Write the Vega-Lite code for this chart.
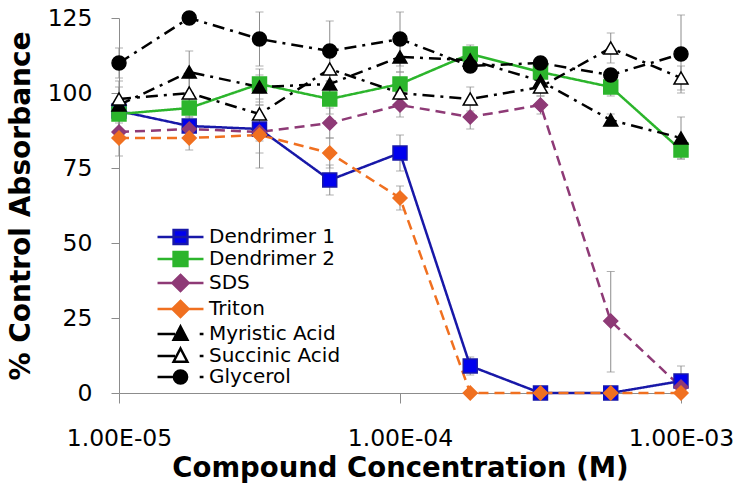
{
  "$schema": "https://vega.github.io/schema/vega-lite/v6.json",
  "width": 562,
  "height": 375,
  "autosize": {"type": "none"},
  "padding": {"left": 119, "top": 18, "right": 69, "bottom": 99},
  "background": "white",
  "config": {
    "view": {"stroke": null},
    "font": "DejaVu Sans",
    "legend": {
      "title": null,
      "orient": "none",
      "legendX": 38,
      "legendY": 209,
      "symbolSize": 36,
      "symbolStrokeWidth": 2.5,
      "symbolOpacity": 1,
      "symbolOffset": 13.5,
      "labelOffset": 18.5,
      "rowPadding": -2,
      "labelFont": "DejaVu Sans",
      "labelFontSize": 20,
      "labelColor": "#000000"
    }
  },
  "resolve": {"scale": {"shape": "independent", "fill": "independent", "stroke": "independent"}},
  "data": {
    "values": [
      {"series": "Dendrimer 1", "conc": 1e-5, "value": 94, "lo": 91, "hi": 97},
      {"series": "Dendrimer 1", "conc": 1.778e-5, "value": 89, "lo": 86, "hi": 92},
      {"series": "Dendrimer 1", "conc": 3.162e-5, "value": 88, "lo": 80, "hi": 96},
      {"series": "Dendrimer 1", "conc": 5.623e-5, "value": 71, "lo": 66, "hi": 76},
      {"series": "Dendrimer 1", "conc": 1e-4, "value": 80, "lo": 74, "hi": 86},
      {"series": "Dendrimer 1", "conc": 1.778e-4, "value": 9, "lo": 6, "hi": 12},
      {"series": "Dendrimer 1", "conc": 3.162e-4, "value": 0},
      {"series": "Dendrimer 1", "conc": 5.623e-4, "value": 0},
      {"series": "Dendrimer 1", "conc": 1e-3, "value": 4, "lo": 0, "hi": 9},
      {"series": "Dendrimer 2", "conc": 1e-5, "value": 93, "lo": 91, "hi": 95},
      {"series": "Dendrimer 2", "conc": 1.778e-5, "value": 95, "lo": 92, "hi": 98},
      {"series": "Dendrimer 2", "conc": 3.162e-5, "value": 103, "lo": 100, "hi": 106},
      {"series": "Dendrimer 2", "conc": 5.623e-5, "value": 98, "lo": 93, "hi": 103},
      {"series": "Dendrimer 2", "conc": 1e-4, "value": 103, "lo": 99, "hi": 107},
      {"series": "Dendrimer 2", "conc": 1.778e-4, "value": 113, "lo": 110, "hi": 116},
      {"series": "Dendrimer 2", "conc": 3.162e-4, "value": 107, "lo": 104, "hi": 110},
      {"series": "Dendrimer 2", "conc": 5.623e-4, "value": 102, "lo": 99, "hi": 105},
      {"series": "Dendrimer 2", "conc": 1e-3, "value": 81, "lo": 78, "hi": 84},
      {"series": "SDS", "conc": 1e-5, "value": 87, "lo": 84, "hi": 90},
      {"series": "SDS", "conc": 1.778e-5, "value": 88, "lo": 85, "hi": 91},
      {"series": "SDS", "conc": 3.162e-5, "value": 87, "lo": 84, "hi": 90},
      {"series": "SDS", "conc": 5.623e-5, "value": 90, "lo": 85, "hi": 95},
      {"series": "SDS", "conc": 1e-4, "value": 96, "lo": 92, "hi": 100},
      {"series": "SDS", "conc": 1.778e-4, "value": 92, "lo": 88, "hi": 96},
      {"series": "SDS", "conc": 3.162e-4, "value": 96, "lo": 93, "hi": 99},
      {"series": "SDS", "conc": 5.623e-4, "value": 24, "lo": 7, "hi": 40.5},
      {"series": "SDS", "conc": 1e-3, "value": 2},
      {"series": "Triton", "conc": 1e-5, "value": 85, "lo": 79, "hi": 91},
      {"series": "Triton", "conc": 1.778e-5, "value": 85, "lo": 81, "hi": 89},
      {"series": "Triton", "conc": 3.162e-5, "value": 86, "lo": 75, "hi": 97},
      {"series": "Triton", "conc": 5.623e-5, "value": 80, "lo": 75, "hi": 85},
      {"series": "Triton", "conc": 1e-4, "value": 65, "lo": 61, "hi": 69},
      {"series": "Triton", "conc": 1.778e-4, "value": 0},
      {"series": "Triton", "conc": 3.162e-4, "value": 0},
      {"series": "Triton", "conc": 5.623e-4, "value": 0},
      {"series": "Triton", "conc": 1e-3, "value": 0},
      {"series": "Myristic Acid", "conc": 1e-5, "value": 96, "lo": 88, "hi": 104},
      {"series": "Myristic Acid", "conc": 1.778e-5, "value": 107, "lo": 100, "hi": 114},
      {"series": "Myristic Acid", "conc": 3.162e-5, "value": 102, "lo": 96, "hi": 108},
      {"series": "Myristic Acid", "conc": 5.623e-5, "value": 103, "lo": 98, "hi": 108},
      {"series": "Myristic Acid", "conc": 1e-4, "value": 112, "lo": 107, "hi": 117},
      {"series": "Myristic Acid", "conc": 1.778e-4, "value": 111, "lo": 108, "hi": 114},
      {"series": "Myristic Acid", "conc": 3.162e-4, "value": 104, "lo": 101, "hi": 107},
      {"series": "Myristic Acid", "conc": 5.623e-4, "value": 91, "lo": 89, "hi": 93},
      {"series": "Myristic Acid", "conc": 1e-3, "value": 85, "lo": 78, "hi": 92},
      {"series": "Succinic Acid", "conc": 1e-5, "value": 98, "lo": 94, "hi": 102},
      {"series": "Succinic Acid", "conc": 1.778e-5, "value": 100, "lo": 95, "hi": 105},
      {"series": "Succinic Acid", "conc": 3.162e-5, "value": 93, "lo": 88, "hi": 98},
      {"series": "Succinic Acid", "conc": 5.623e-5, "value": 108, "lo": 104, "hi": 112},
      {"series": "Succinic Acid", "conc": 1e-4, "value": 100, "lo": 95, "hi": 105},
      {"series": "Succinic Acid", "conc": 1.778e-4, "value": 98, "lo": 94, "hi": 102},
      {"series": "Succinic Acid", "conc": 3.162e-4, "value": 102, "lo": 99, "hi": 105},
      {"series": "Succinic Acid", "conc": 5.623e-4, "value": 115, "lo": 110, "hi": 120},
      {"series": "Succinic Acid", "conc": 1e-3, "value": 105, "lo": 101, "hi": 109},
      {"series": "Glycerol", "conc": 1e-5, "value": 110, "lo": 105, "hi": 115},
      {"series": "Glycerol", "conc": 1.778e-5, "value": 125},
      {"series": "Glycerol", "conc": 3.162e-5, "value": 118, "lo": 109, "hi": 127},
      {"series": "Glycerol", "conc": 5.623e-5, "value": 114, "lo": 104, "hi": 124},
      {"series": "Glycerol", "conc": 1e-4, "value": 118, "lo": 109, "hi": 127},
      {"series": "Glycerol", "conc": 1.778e-4, "value": 109, "lo": 107, "hi": 111},
      {"series": "Glycerol", "conc": 3.162e-4, "value": 110, "lo": 108, "hi": 112},
      {"series": "Glycerol", "conc": 5.623e-4, "value": 106, "lo": 104, "hi": 108},
      {"series": "Glycerol", "conc": 1e-3, "value": 113, "lo": 100, "hi": 126}
    ]
  },
  "encoding": {
    "x": {
      "field": "conc",
      "type": "quantitative",
      "scale": {"type": "log", "domain": [1e-5, 1e-3], "nice": false},
      "axis": {
        "title": "Compound Concentration (M)",
        "values": [1e-5, 1e-4, 1e-3],
        "labelExpr": "datum.value < 3e-5 ? '1.00E-05' : datum.value < 3e-4 ? '1.00E-04' : '1.00E-03'",
        "grid": false,
        "domainColor": "#8c8c8c",
        "tickColor": "#8c8c8c",
        "tickSize": 10,
        "labelFont": "DejaVu Sans",
        "labelFontSize": 23.5,
        "labelColor": "#000000",
        "labelPadding": 23,
        "labelFlush": false,
        "labelOverlap": false,
        "titleFont": "DejaVu Sans",
        "titleFontSize": 27.5,
        "titleFontWeight": "bold",
        "titleColor": "#000000",
        "titlePadding": 5
      }
    }
  },
  "layer": [
    {
      "transform": [{"filter": "datum.hi != null"}],
      "mark": {"type": "rule", "color": "#8c8c8c", "strokeWidth": 1},
      "encoding": {
        "y": {
          "field": "lo",
          "type": "quantitative",
          "scale": {"domain": [0, 125], "nice": false},
          "axis": {
            "title": "% Control Absorbance",
            "values": [0, 25, 50, 75, 100, 125],
            "grid": false,
            "domainColor": "#8c8c8c",
            "tickColor": "#8c8c8c",
            "tickSize": 8,
            "labelFont": "DejaVu Sans",
            "labelFontSize": 23.5,
            "labelColor": "#000000",
            "labelPadding": 19,
            "labelFlush": false,
            "titleFont": "DejaVu Sans",
            "titleFontSize": 28,
            "titleFontWeight": "bold",
            "titleColor": "#000000",
            "titlePadding": 12
          }
        },
        "y2": {"field": "hi"}
      }
    },
    {
      "transform": [{"filter": "datum.hi != null"}],
      "mark": {"type": "tick", "orient": "horizontal", "color": "#8c8c8c", "size": 8, "thickness": 1},
      "encoding": {
        "y": {"field": "lo", "type": "quantitative"}
      }
    },
    {
      "transform": [{"filter": "datum.hi != null"}],
      "mark": {"type": "tick", "orient": "horizontal", "color": "#8c8c8c", "size": 8, "thickness": 1},
      "encoding": {
        "y": {"field": "hi", "type": "quantitative"}
      }
    },
    {
      "mark": {"type": "line", "strokeWidth": 2.5},
      "encoding": {
        "y": {"field": "value", "type": "quantitative"},
        "stroke": {
          "field": "series",
          "type": "nominal",
          "scale": {
            "domain": ["Dendrimer 1", "Dendrimer 2", "SDS", "Triton", "Myristic Acid", "Succinic Acid", "Glycerol"],
            "range": ["#1818a8", "#2cb52c", "#8e3a76", "#f07020", "#000000", "#000000", "#000000"]
          },
          "legend": null
        },
        "strokeDash": {
          "field": "series",
          "type": "nominal",
          "scale": {
            "domain": ["Dendrimer 1", "Dendrimer 2", "SDS", "Triton", "Myristic Acid", "Succinic Acid", "Glycerol"],
            "range": [[1, 0], [1, 0], [10, 6], [10, 6], [12, 6, 3, 6], [12, 6, 3, 6], [12, 6, 3, 6]]
          },
          "legend": null
        }
      }
    },
    {
      "mark": {"type": "point", "filled": true, "opacity": 1, "strokeWidth": 1.5, "size": 195},
      "encoding": {
        "y": {"field": "value", "type": "quantitative"},
        "shape": {
          "field": "series",
          "type": "nominal",
          "scale": {
            "domain": ["Dendrimer 1", "Dendrimer 2", "SDS", "Triton", "Myristic Acid", "Succinic Acid", "Glycerol"],
            "range": ["square", "square", "diamond", "diamond", "triangle-up", "triangle-up", "circle"]
          },
          "legend": null
        },
        "fill": {
          "field": "series",
          "type": "nominal",
          "scale": {
            "domain": ["Dendrimer 1", "Dendrimer 2", "SDS", "Triton", "Myristic Acid", "Succinic Acid", "Glycerol"],
            "range": ["#0000ee", "#2cb52c", "#8e3a76", "#f07020", "#000000", "#ffffff", "#000000"]
          },
          "legend": null
        },
        "stroke": {
          "field": "series",
          "type": "nominal",
          "scale": {
            "domain": ["Dendrimer 1", "Dendrimer 2", "SDS", "Triton", "Myristic Acid", "Succinic Acid", "Glycerol"],
            "range": ["#1818a8", "#2cb52c", "#8e3a76", "#f07020", "#000000", "#000000", "#000000"]
          },
          "legend": null
        }
      }
    },
    {
      "transform": [{"filter": "datum.value > 1000"}],
      "mark": {"type": "point", "filled": true, "opacity": 1},
      "encoding": {
        "y": {"field": "value", "type": "quantitative"},
        "shape": {
          "field": "series",
          "type": "nominal",
          "scale": {
            "domain": ["Dendrimer 1", "Dendrimer 2", "SDS", "Triton", "Myristic Acid", "Succinic Acid", "Glycerol"],
            "range": [
              "M-7.66,0H7.66M-2.3,-2.3H2.3V2.3H-2.3Z",
              "M-7.66,0H7.66M-2.3,-2.3H2.3V2.3H-2.3Z",
              "M-7.66,0H7.66M0,-2.7L2.7,0L0,2.7L-2.7,0Z",
              "M-7.66,0H7.66M0,-2.7L2.7,0L0,2.7L-2.7,0Z",
              "M-7.66,0H-1.8M6.4,0H7.66M0,-2.5L2.3,1.9L-2.3,1.9Z",
              "M-7.66,0H-1.8M6.4,0H7.66M0,-2.5L2.3,1.9L-2.3,1.9Z",
              "M-7.66,0H-1.8M6.4,0H7.66M-2.2,0A2.2,2.2 0 1,0 2.2,0A2.2,2.2 0 1,0 -2.2,0Z"
            ]
          }
        },
        "fill": {
          "field": "series",
          "type": "nominal",
          "scale": {
            "domain": ["Dendrimer 1", "Dendrimer 2", "SDS", "Triton", "Myristic Acid", "Succinic Acid", "Glycerol"],
            "range": ["#0000ee", "#2cb52c", "#8e3a76", "#f07020", "#000000", "#ffffff", "#000000"]
          }
        },
        "stroke": {
          "field": "series",
          "type": "nominal",
          "scale": {
            "domain": ["Dendrimer 1", "Dendrimer 2", "SDS", "Triton", "Myristic Acid", "Succinic Acid", "Glycerol"],
            "range": ["#1818a8", "#2cb52c", "#8e3a76", "#f07020", "#000000", "#000000", "#000000"]
          }
        }
      }
    }
  ]
}
